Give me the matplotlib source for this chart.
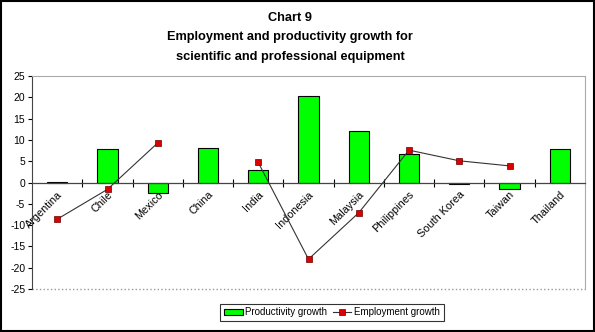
import matplotlib
matplotlib.use("Agg")
import matplotlib.pyplot as plt
import numpy as np
from matplotlib.patches import Rectangle

plt.rcParams['font.family'] = ['Liberation Sans', 'DejaVu Sans']

countries = ["Argentina", "Chile", "Mexico", "China", "India", "Indonesia",
             "Malaysia", "Philippines", "South Korea", "Taiwan", "Thailand"]
productivity = [0.2, 7.8, -2.4, 8.0, 2.9, 20.2, 12.0, 6.7, -0.4, -1.6, 7.8]
employment = [-8.6, -1.6, 9.3, np.nan, 4.7, -18.0, -7.1, 7.6, 5.1, 3.9, np.nan]
yticks = list(range(-25, 30, 5))

fig = plt.figure(figsize=(5.95, 3.32), dpi=100)
fig.patches.append(Rectangle((0.001, 0.002), 0.997, 0.995, transform=fig.transFigure,
                             fill=False, edgecolor='black', linewidth=1.5))

ax = fig.add_axes([0.054, 0.1295, 0.929, 0.6415])
x = np.arange(len(countries))
bars = ax.bar(x, productivity, width=0.4, color='#00FF00', edgecolor='black', linewidth=0.8,
              label='Productivity growth', zorder=2)
line, = ax.plot(x, employment, color='#333333', linewidth=0.8, marker='s', markersize=4,
                markerfacecolor='#DD0000', markeredgecolor='#660000', markeredgewidth=0.5,
                label='Employment growth', zorder=3)

ax.set_xlim(-0.5, len(countries) - 0.5)
ax.set_ylim(-25, 25)
ax.set_yticks(yticks)
ax.set_yticklabels([str(t) for t in yticks], fontsize=7.5)
ax.tick_params(axis='y', direction='out', length=3, width=0.8, pad=2)

ax.spines['bottom'].set_position(('data', 0))
ax.spines['bottom'].set_color('#444444')
ax.spines['bottom'].set_linewidth(0.9)
ax.spines['left'].set_color('#444444')
ax.spines['top'].set_color('#AAAAAA')
ax.spines['right'].set_color('#AAAAAA')
ax.axhline(-25, color='#999999', linewidth=1.0, linestyle=':', zorder=1, clip_on=False)

ax.set_xticks(x)
ax.set_xticklabels(countries, rotation=45, ha='right', rotation_mode='anchor', fontsize=7.8)
ax.tick_params(axis='x', which='major', length=0, pad=5)
ax.set_xticks(np.arange(0.5, len(countries) - 0.5, 1.0), minor=True)
ax.tick_params(axis='x', which='minor', direction='inout', length=6, width=0.8)

fig.text(0.488, 0.946, "Chart 9", ha='center', va='center', fontsize=9.2, fontweight='bold')
fig.text(0.488, 0.888, "Employment and productivity growth for", ha='center', va='center',
         fontsize=9.2, fontweight='bold')
fig.text(0.488, 0.829, "scientific and professional equipment", ha='center', va='center',
         fontsize=9.2, fontweight='bold')

leg = fig.legend([bars, line], ['Productivity growth', 'Employment growth'], loc='center',
                 bbox_to_anchor=(0.558, 0.059), ncol=2,
                 fontsize=7, frameon=True, fancybox=False, edgecolor='black',
                 handlelength=1.9, handleheight=0.5, columnspacing=0.6, handletextpad=0.25,
                 borderpad=0.4, borderaxespad=0.2)
leg.get_frame().set_linewidth(0.8)

fig.savefig("out.png", dpi=100)
